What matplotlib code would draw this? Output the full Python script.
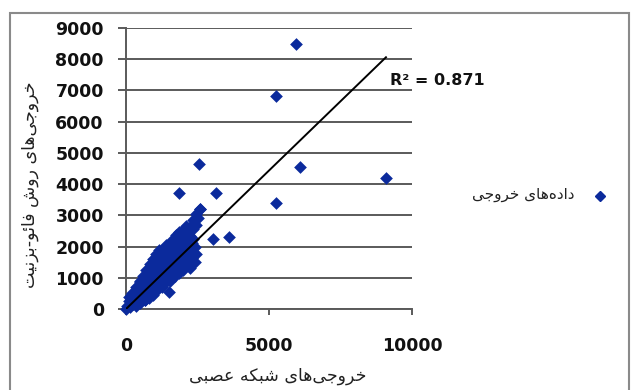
import matplotlib
matplotlib.use("Agg")
import matplotlib.pyplot as plt
from matplotlib.patches import Rectangle

# data
cluster_x = [0, 20, 150, 250, 350, 100, 250, 400, 500, 300, 200, 350, 500, 650,
             300, 450, 600, 750, 850, 950, 400, 550, 700, 850, 1000, 1100,
             500, 650, 800, 950, 1100, 1250, 1400,
             650, 800, 950, 1100, 1250, 1400, 1550, 1700,
             750, 900, 1050, 1200, 1350, 1500, 1650, 1850,
             850, 1000, 1150, 1300, 1450, 1600, 1750, 2000, 2250,
             950, 1100, 1250, 1400, 1550, 1700, 1850, 2100, 2400,
             1050, 1200, 1350, 1500, 1650, 1800, 1950, 2300, 2450,
             1150, 1300, 1450, 1600, 1750, 1900, 2050, 2200,
             1250, 1400, 1550, 1700, 1850, 2000, 2200, 2400,
             1400, 1550, 1700, 1850, 2000, 2150, 2300,
             1600, 1750, 1900, 2050, 2200, 2350,
             1750, 1900, 2050, 2250,
             1850, 2000, 2200, 2350,
             2100, 2300, 2450,
             2350, 2500,
             2450, 2600,
             100, 200, 350, 500, 600, 700, 850, 950, 1050, 1150,
             650, 800, 1250, 1550, 1600]
cluster_y = [0, 100, 80, 150, 100, 250, 230, 260, 200, 320, 420, 380, 400, 300,
             560, 540, 580, 520, 560, 450, 700, 720, 680, 710, 690, 600,
             860, 840, 870, 830, 860, 820, 850,
             1000, 1020, 980, 1010, 990, 1000, 950, 1050,
             1160, 1140, 1170, 1130, 1150, 1160, 1120, 1150,
             1300, 1320, 1290, 1310, 1300, 1280, 1320, 1250, 1310,
             1460, 1440, 1470, 1450, 1430, 1460, 1440, 1500, 1500,
             1610, 1590, 1620, 1600, 1580, 1610, 1620, 1620, 1750,
             1760, 1740, 1770, 1750, 1730, 1760, 1780, 1850,
             1900, 1920, 1890, 1910, 1900, 1920, 1880, 2000,
             2060, 2040, 2070, 2050, 2030, 2060, 2100,
             2210, 2190, 2220, 2200, 2250, 2250,
             2360, 2340, 2380, 2350,
             2480, 2520, 2500, 2560,
             2650, 2700, 2680,
             2850, 2900,
             3050, 3190,
             400, 500, 700, 900, 1050, 1250, 1450, 1600, 1750, 1900,
             300, 350, 700, 900, 1000]
outlier_x = [5950, 5250, 2550, 6070, 9090, 1860, 3150, 5250, 2590, 3050, 3610, 1510]
outlier_y = [8480, 6830, 4650, 4540, 4190, 3710, 3730, 3390, 3190, 2240, 2300, 560]
trend_slope = 0.887
trend_intercept = 0
trend_x = [0, 9090]
r2_text = "R² = 0.871"
x_ticks = [0, 5000, 10000]
y_ticks = [0, 1000, 2000, 3000, 4000, 5000, 6000, 7000, 8000, 9000]

x_label = "خروجی\u200cهای شبکه عصبی"
y_label = "خروجی\u200cهای روش فائو-بزنیت"
legend_label = "داده\u200cهای خروجی"

# small joiner for persian text (matplotlib has no shaping)
FORMS = {
    'ا': ('\uFE8D', '\uFE8E', None, None),
    'ب': ('\uFE8F', '\uFE90', '\uFE91', '\uFE92'),
    'ت': ('\uFE95', '\uFE96', '\uFE97', '\uFE98'),
    'ج': ('\uFE9D', '\uFE9E', '\uFE9F', '\uFEA0'),
    'خ': ('\uFEA5', '\uFEA6', '\uFEA7', '\uFEA8'),
    'د': ('\uFEA9', '\uFEAA', None, None),
    'ر': ('\uFEAD', '\uFEAE', None, None),
    'ز': ('\uFEAF', '\uFEB0', None, None),
    'ش': ('\uFEB5', '\uFEB6', '\uFEB7', '\uFEB8'),
    'ص': ('\uFEB9', '\uFEBA', '\uFEBB', '\uFEBC'),
    'ع': ('\uFEC9', '\uFECA', '\uFECB', '\uFECC'),
    'ف': ('\uFED1', '\uFED2', '\uFED3', '\uFED4'),
    'ن': ('\uFEE5', '\uFEE6', '\uFEE7', '\uFEE8'),
    'ه': ('\uFEE9', '\uFEEA', '\uFEEB', '\uFEEC'),
    'و': ('\uFEED', '\uFEEE', None, None),
    'ئ': ('\uFE89', '\uFE8A', '\uFE8B', '\uFE8C'),
    'ی': ('\uFBFC', '\uFBFD', '\uFBFE', '\uFBFF'),
    'ک': ('\uFB8E', '\uFB8F', '\uFB90', '\uFB91'),
}


def shape(text):
    out = []
    for i, c in enumerate(text):
        if c not in FORMS:
            if c != '\u200c':
                out.append(c)
            continue
        prev = text[i - 1] if i > 0 else ''
        nxt = text[i + 1] if i + 1 < len(text) else ''
        jp = prev in FORMS and FORMS[prev][2] is not None
        jn = nxt in FORMS and FORMS[c][2] is not None
        iso, fin, ini, med = FORMS[c]
        if jp and jn:
            out.append(med)
        elif jp:
            out.append(fin)
        elif jn:
            out.append(ini)
        else:
            out.append(iso)
    return ''.join(reversed(out))


W, H = 631, 390
blue = '#0b2a9c'
grid_col = '#5a5a5a'

fig = plt.figure(figsize=(W / 100, H / 100), dpi=100)
fig.patches.append(Rectangle((10 / W, -0.05), 619 / W, 1.05 - 13 / H,
                             transform=fig.transFigure, fill=False,
                             edgecolor='#8a8a8a', lw=1.5))

ax = fig.add_axes([126 / W, 1 - 309 / H, 286 / W, 281 / H])
ax.set_xlim(0, 10000)
ax.set_ylim(0, 9000)

ax.scatter(cluster_x, cluster_y, marker='D', s=42, color=blue, lw=0,
           clip_on=False, zorder=3)
ax.scatter(outlier_x, outlier_y, marker='D', s=42, color=blue, lw=0,
           clip_on=False, zorder=3)
ty = [trend_slope * v + trend_intercept for v in trend_x]
ax.plot(trend_x, ty, color='black', lw=1.4, zorder=4)

ax.set_xticks(x_ticks)
ax.set_yticks(y_ticks)
ax.yaxis.grid(True, color=grid_col, lw=1.4)
ax.set_axisbelow(True)
for s in ['top', 'right']:
    ax.spines[s].set_visible(False)
for s in ['left', 'bottom']:
    ax.spines[s].set_color(grid_col)
    ax.spines[s].set_linewidth(1.4)
ax.tick_params(axis='y', length=6, width=1.4, color=grid_col, pad=10)
ax.tick_params(axis='x', length=4.5, width=1.4, color=grid_col, pad=16)
for lab in ax.get_xticklabels() + ax.get_yticklabels():
    lab.set_fontweight('bold')
    lab.set_fontsize(12.5)
    lab.set_color('#111111')

ax.text(9230, 7330, r2_text, fontsize=11.5, fontweight='bold', color='#111111',
        va='center', ha='left', clip_on=False)

fig.text(278 / W, 1 - 376 / H, shape(x_label), fontsize=12.5,
         ha='center', va='center', family='DejaVu Sans', color='#222222')
fig.text(30 / W, 1 - 185 / H, shape(y_label), fontsize=12.5, rotation=90,
         ha='center', va='center', family='DejaVu Sans', color='#222222')

# legend
fig.lines.append(plt.Line2D([600 / W], [1 - 196 / H], marker='D', ms=5.5,
                            color=blue, lw=0, transform=fig.transFigure))
fig.text(574 / W, 1 - 195 / H, shape(legend_label), fontsize=11,
         ha='right', va='center', family='DejaVu Sans', color='#222222')

fig.savefig('out.png', dpi=100)
